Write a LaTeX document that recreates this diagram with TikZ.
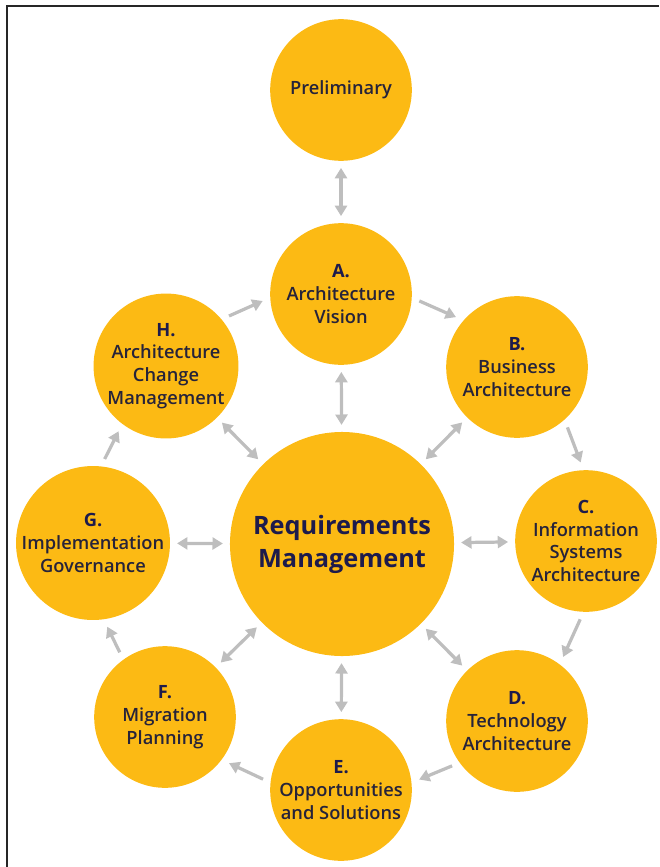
\documentclass[tikz,border=0pt]{standalone}
\usepackage{fontspec}
\setmainfont{Open Sans}
\IfFontExistsTF{Open Sans Semibold}
  {\newfontfamily\phasefont{Open Sans Semibold}}
  {\IfFontExistsTF{Open Sans SemiBold}
    {\newfontfamily\phasefont{Open Sans SemiBold}}
    {\newfontfamily\phasefont[FakeBold=1.3]{Open Sans}}}
\usetikzlibrary{arrows.meta}

\definecolor{admyellow}{HTML}{FCBA14}
\definecolor{admgray}{HTML}{BEBEBE}
\definecolor{admnavy}{HTML}{1D1B4C}
\definecolor{admtext}{HTML}{26233A}

\tikzset{
  phase/.style={circle, fill=admyellow, minimum size=3.54cm, inner sep=0pt,
    align=center, text=admtext, font=\phasefont\fontsize{13}{16.2}\selectfont},
  hub/.style={phase, minimum size=5.6cm, text=admnavy,
    font=\bfseries\fontsize{18}{23.5}\selectfont},
  cyc/.style={draw=admgray, line width=2.3pt,
    -{Triangle[length=0.26cm,width=0.3cm]},
    shorten <=0.2cm, shorten >=0.2cm},
  both/.style={cyc, {Triangle[length=0.26cm,width=0.3cm]}-{Triangle[length=0.26cm,width=0.3cm]},
    shorten <=0.17cm, shorten >=0.17cm},
}
\newcommand{\phaseletter}[1]{{\normalfont\bfseries\color{admnavy}#1}}

\begin{document}
\begin{tikzpicture}[x=0.025cm,y=-0.025cm]
%  \draw [step=20,color=gray] (0,0) grid (659,867);
  \useasboundingbox (0,0) rectangle (659,867);
  \draw[line width=1.3pt, black!85] (7,867) -- (7,6) -- (659,6);

  \path (341,90) coordinate (P0);
  \path (342,544) coordinate (PM);
  \path (341,294) coordinate (PA);
  \path (517,367) coordinate (PB);
  \path (586,541) coordinate (PC);
  \path (517,721) coordinate (PD);
  \path (341,790) coordinate (PE);
  \path (165,717) coordinate (PF);
  \path (93,543) coordinate (PG);
  \path (166,366) coordinate (PH);

  \node[phase] (prelim) at (P0) {Preliminary};
  \node[hub] (reqm) at (PM) {Requirements\\Management};
  \node[phase] (A) at (PA) {\phaseletter{A.}\\Architecture\\Vision};
  \node[phase] (B) at (PB) {\phaseletter{B.}\\Business\\Architecture};
  \node[phase] (C) at (PC) {\phaseletter{C.}\\Information\\Systems\\Architecture};
  \node[phase] (D) at (PD) {\phaseletter{D.}\\Technology\\Architecture};
  \node[phase] (E) at (PE) {\phaseletter{E.}\\Opportunities\\and Solutions};
  \node[phase] (F) at (PF) {\phaseletter{F.}\\Migration\\Planning};
  \node[phase] (G) at (PG) {\phaseletter{G.}\\Implementation\\Governance};
  \node[phase] (H) at (PH) {\phaseletter{H.}\\Architecture\\Change\\Management};

  % the cycle
  \draw[cyc] (A.-3) -- (B.139);
  \draw[cyc] (B.-48) -- (C.92);
  \draw[cyc] (C.-92) -- (D.53);
  \draw[cyc] (D.216) -- (E.6);
  \draw[cyc] (E.174) -- (F.-37);
  \draw[cyc] (F.126) -- (G.-82);
  \draw[cyc] (G.84) -- (H.233);
  \draw[cyc] (H.40) -- (A.183);

  % to and from the centre
  \draw[both] (prelim) -- (A);
  \foreach \p in {A,B,C,D,E,F,G,H}
    \draw[both] (\p) -- (reqm);

\end{tikzpicture}
\end{document}
